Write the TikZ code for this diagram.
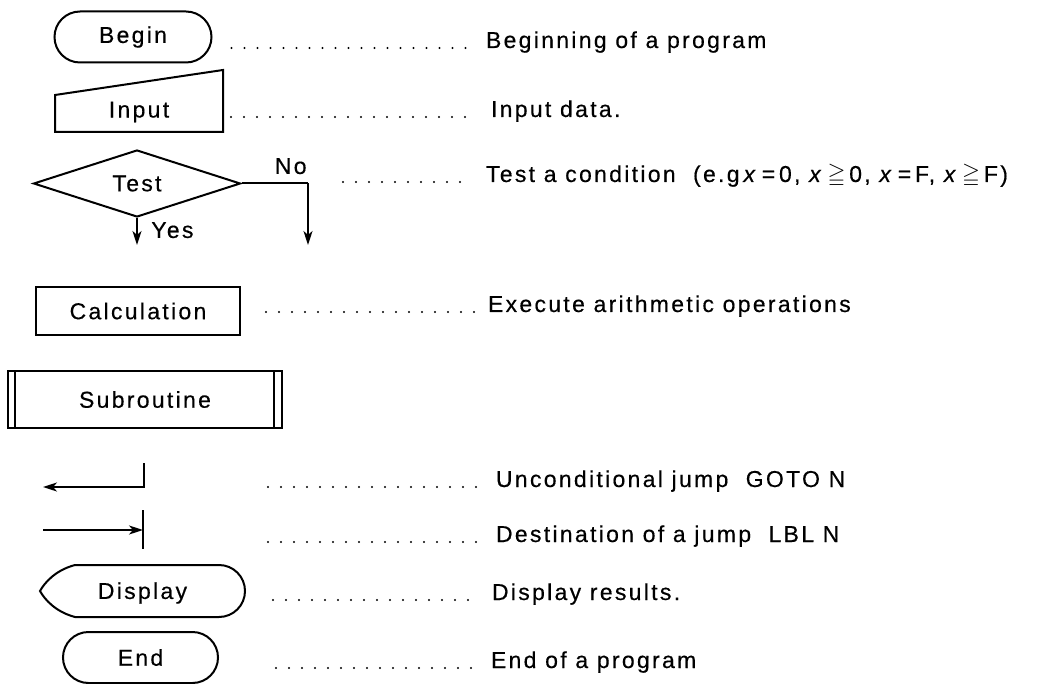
\documentclass[tikz,border=0pt]{standalone}
\usepackage{amssymb}
\usepackage{fontspec}
\setmainfont{Liberation Sans}[LetterSpace=10, FakeBold=0.4]
\usetikzlibrary{positioning,arrows.meta,shapes.geometric,shapes.misc,calc}

\begin{document}
\begin{tikzpicture}[
  x=1pt, y=1pt, line width=2pt,
  font=\fontsize{23}{27}\selectfont, >={Stealth[length=14pt,width=9pt,inset=4pt]},
  term/.style={draw, rounded rectangle, minimum width=157pt, minimum height=51pt,
               inner sep=0pt},
  decision/.style={draw, diamond, aspect=3, minimum width=207pt, minimum height=67pt,
                   inner sep=0pt},
  proc/.style={draw, rectangle, minimum width=204pt, minimum height=48pt, inner sep=0pt},
  subproc/.style={draw, rectangle, minimum width=274pt, minimum height=57pt, inner sep=0pt},
  flow/.style={->},
  leader/.style={line width=2.4pt, line cap=round, dash pattern=on 0pt off 13pt},
  desc/.style={anchor=base west, inner sep=0pt},
]
\useasboundingbox (0,0) rectangle (1054,-684);

% symbols
\node[term] (begin) at (133,-37) {Begin};
\node[inner sep=0pt, minimum width=168pt, minimum height=37pt] (input) at (139,-112) {Input};
\draw (55,-132) -- (55,-95) -- (223,-70) -- (223,-132) -- cycle;

\node[decision] (test) at (137,-183.5) {Test};
\coordinate (nobend) at (308,-183.5);
\coordinate (noend)  at (308,-245);
\coordinate (yesend) at (137,-245);
\draw (test.east) -- node[pos=0.74, above=5pt] (nolbl) {No} (nobend);
\draw[flow] (nobend) -- (noend);
\draw[flow] (test.south) -- node[pos=0.45, right=10pt] (yeslbl) {Yes} (yesend);

\node[proc] (calc) at (138,-311) {Calculation};

\node[subproc] (subr) at (145,-399.5) {Subroutine};
\draw ([xshift=8pt]subr.north west) -- ([xshift=8pt]subr.south west);
\draw ([xshift=-9pt]subr.north east) -- ([xshift=-9pt]subr.south east);

\coordinate (gototop) at (144,-463);
\coordinate (gotoend) at (43,-487);
\draw[flow] (gototop) |- (gotoend);

\coordinate (lblstart) at (43,-530);
\coordinate (lbltop)   at (143,-510);
\coordinate (lblbot)   at (143,-549);
\draw (lbltop) -- (lblbot);
\draw[flow] (lblstart) -- (lblstart -| lbltop);

\node[inner sep=0pt, minimum width=205pt, minimum height=52pt] (disp) at (142.5,-593) {Display};
\draw (75,-565) -- (219,-565) arc[start angle=90, end angle=-90, radius=26pt]
      -- (75,-617) .. controls (56,-612) and (45,-600) .. (40,-591)
      .. controls (45,-582) and (56,-570) .. (75,-565) -- cycle;

\node[term, minimum width=155pt] (stop) at (140.5,-657.5) {End};

% descriptions
\node[desc] (dbegin) at (485,-48)  {Beginning of a program};
\node[desc] (dinput) at (490,-117) {Input data.};
\node[desc] (dtest)  at (485,-182) {Test a condition\ \ (e.g\,\textit{x}\,=\,0, \textit{x}\,$\geqq$\,0, \textit{x}\,=\,F, \textit{x}\,$\geqq$\,F)};
\node[desc] (dcalc)  at (487,-312) {Execute arithmetic operations};
\node[desc] (dgoto)  at (495,-487) {Unconditional jump\ \ GOTO N};
\node[desc] (dlbl)   at (495,-542) {Destination of a jump\ \ LBL N};
\node[desc] (ddisp)  at (491,-600) {Display results.};
\node[desc] (dstop)  at (490,-668) {End of a program};

% dotted leaders
\draw[leader] ($(begin.east |- dbegin.base)+(19,0)$) -- ($(dbegin.base west)+(-12,0)$);
\draw[leader] ($(input.east |- dinput.base)+(7,0)$) -- ($(dinput.base west)+(-14,0)$);
\draw[leader] ($(nobend |- dtest.base)+(35,0)$) -- ($(dtest.base west)+(-12,0)$);
\draw[leader] ($(calc.east |- dcalc.base)+(25,0)$) -- ($(dcalc.base west)+(-12,0)$);
\draw[leader] ($(gototop |- dgoto.base)+(124,0)$) -- ($(dgoto.base west)+(-14,0)$);
\draw[leader] ($(lbltop |- dlbl.base)+(125,0)$) -- ($(dlbl.base west)+(-14,0)$);
\draw[leader] ($(disp.east |- ddisp.base)+(27,0)$) -- ($(ddisp.base west)+(-12,0)$);
\draw[leader] ($(stop.east |- dstop.base)+(57,0)$) -- ($(dstop.base west)+(-10,0)$);
\end{tikzpicture}
\end{document}
